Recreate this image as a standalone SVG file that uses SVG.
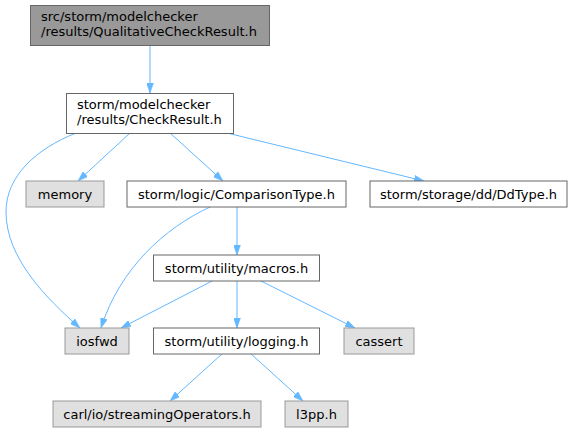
<svg xmlns="http://www.w3.org/2000/svg" width="573" height="432" viewBox="0 0 573 432">
<style>
text{font-family:"DejaVu Sans","Liberation Sans",sans-serif;font-size:13px;fill:#000}
.c{text-anchor:middle}
.w{fill:#fff;stroke:#666;stroke-width:1}
.g{fill:#e0e0e0;stroke:#999;stroke-width:1}
.t{fill:#999;stroke:#666;stroke-width:1}
.e{fill:none;stroke:#63b8ff;stroke-width:1;marker-end:url(#a)}
</style>
<defs>
<marker id="a" markerUnits="userSpaceOnUse" viewBox="0 0 10 7" refX="10" refY="3.5" markerWidth="10" markerHeight="7" orient="auto">
<path d="M0,0 L10,3.5 L0,7 z" fill="#63b8ff" stroke="#63b8ff" stroke-width="0.5"/>
</marker>
</defs>
<g id="edges">
<path class="e" d="M150,45 L150,93"/>
<path class="e" d="M130,133 L78,181"/>
<path class="e" d="M170,133 L223,181"/>
<path class="e" d="M227,133 L424,181"/>
<path class="e" d="M76,133 C36,149 6,176 6,212 C6,258 46,298 80,328"/>
<path class="e" d="M210,207 C165,228 120,268 101,328"/>
<path class="e" d="M237,207 L237,255"/>
<path class="e" d="M214,280 L121,328"/>
<path class="e" d="M237,280 L237,328"/>
<path class="e" d="M259,280 L355,328"/>
<path class="e" d="M223,353 L170,401"/>
<path class="e" d="M250,353 L303,401"/>
</g>
<g id="n_top"><rect class="t" x="30.5" y="5.5" width="239" height="40"/><text x="41" y="20.5">src/storm/modelchecker</text><text x="41" y="35.5">/results/QualitativeCheckResult.h</text></g>
<g id="n_checkresult"><rect class="w" x="66.5" y="93.5" width="167" height="40"/><text x="77" y="108.5">storm/modelchecker</text><text x="77" y="123.5">/results/CheckResult.h</text></g>
<g id="n_memory"><rect class="g" x="26" y="181" width="78" height="26"/><text class="c" x="65" y="198.5">memory</text></g>
<g id="n_comparison"><rect class="w" x="127" y="181" width="219" height="26"/><text class="c" x="236.5" y="198.5">storm/logic/ComparisonType.h</text></g>
<g id="n_ddtype"><rect class="w" x="370" y="181" width="197" height="26"/><text class="c" x="468.5" y="198.5">storm/storage/dd/DdType.h</text></g>
<g id="n_macros"><rect class="w" x="153.5" y="255" width="166" height="26"/><text class="c" x="236.5" y="272.5">storm/utility/macros.h</text></g>
<g id="n_iosfwd"><rect class="g" x="65" y="328" width="64" height="26"/><text class="c" x="97" y="345.5">iosfwd</text></g>
<g id="n_logging"><rect class="w" x="153.5" y="328" width="166" height="26"/><text class="c" x="236.5" y="345.5">storm/utility/logging.h</text></g>
<g id="n_cassert"><rect class="g" x="344" y="328" width="70" height="26"/><text class="c" x="379" y="345.5">cassert</text></g>
<g id="n_carl"><rect class="g" x="53" y="401" width="208" height="26"/><text class="c" x="157" y="418.5">carl/io/streamingOperators.h</text></g>
<g id="n_l3pp"><rect class="g" x="285" y="401" width="63" height="26"/><text class="c" x="316.5" y="418.5">l3pp.h</text></g>
</svg>
